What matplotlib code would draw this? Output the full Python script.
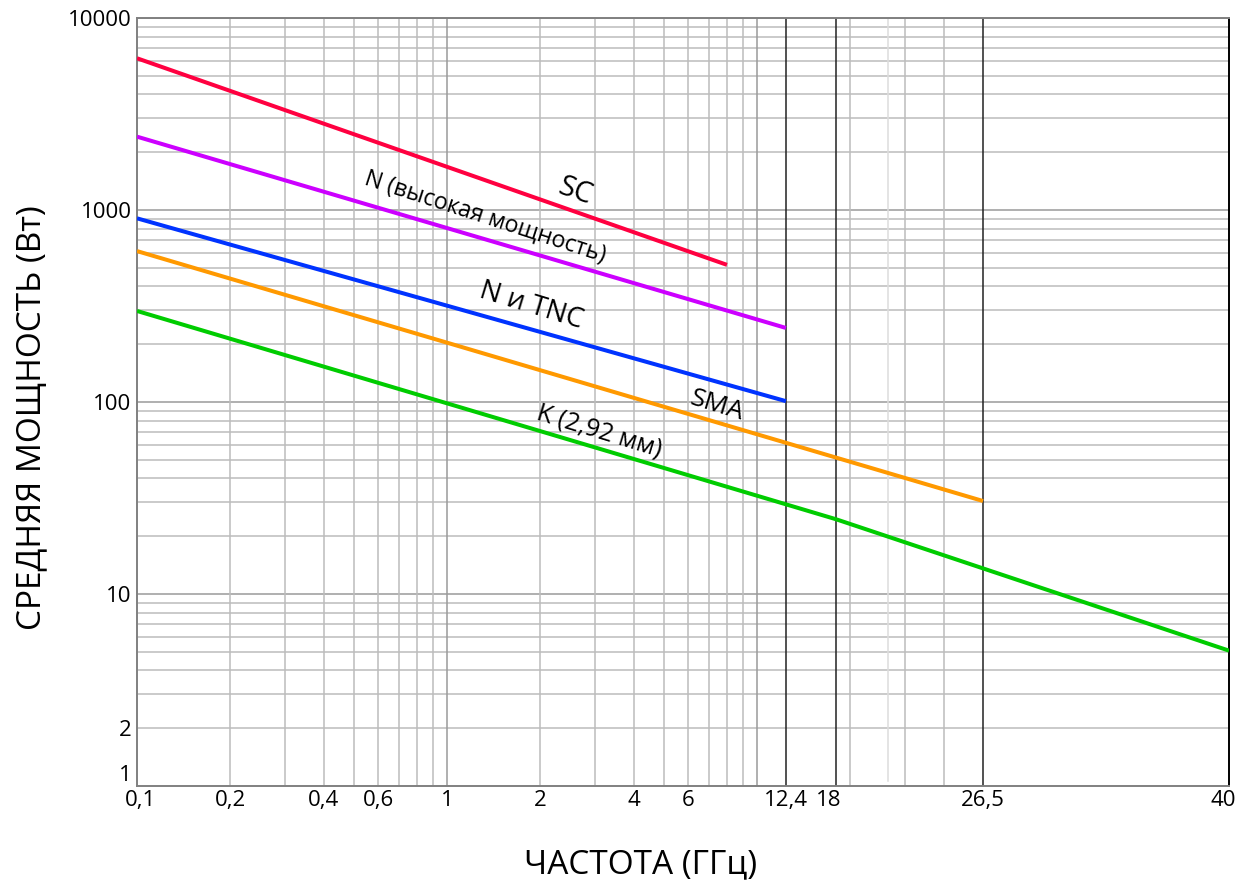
import numpy as np
import matplotlib
matplotlib.use("Agg")
import matplotlib.pyplot as plt
from matplotlib.transforms import ScaledTranslation

plt.rcParams['font.family'] = ['Open Sans', 'DejaVu Sans']

# ---- data ----
freq_ticks = [0.1, 0.2, 0.4, 0.6, 1, 2, 4, 6, 12.4, 18, 26.5, 40]
freq_tick_labels = ['0,1', '0,2', '0,4', '0,6', '1', '2', '4', '6', '12,4', '18', '26,5', '40']
power_ticks = [1, 2, 10, 100, 1000, 10000]
power_tick_labels = ['1', '2', '10', '100', '1000', '10000']
band_edges = [12.4, 18, 26.5]

sc_freq = [0.1, 8.0]
sc_power = [6170, 518]
nhp_freq = [0.1, 12.4]
nhp_power = [2410, 243]
ntnc_freq = [0.1, 12.4]
ntnc_power = [905, 101]
sma_freq = [0.1, 26.5]
sma_power = [611, 30.5]
k_freq = [0.1, 18, 40]
k_power = [298, 24.5, 5.07]

series_names = ['SC', 'N (высокая мощность)', 'N и TNC', 'SMA', 'K (2,92 мм)']
series_colors = ['#ff0040', '#cc00ff', '#0033ff', '#ff9900', '#00cc00']

# ---- custom frequency axis: log up to 18 GHz, stretched above ----
L = np.log10([0.1, 18, 26.5, 40])
P = np.array([-1.0, np.log10(18), 1.729, 2.5226])
s_hi = (P[3] - P[2]) / (L[3] - L[2])
Lk = np.concatenate([[-30.0], L, [30.0]])
Pk = np.concatenate([[-30.0], P, [P[3] + s_hi * (30.0 - L[3])]])


def forward(f):
    f = np.clip(np.asarray(f, dtype=float), 1e-30, None)
    return np.interp(np.log10(f), Lk, Pk)


def inverse(p):
    return 10.0 ** np.interp(np.asarray(p, dtype=float), Pk, Lk)


fig = plt.figure(figsize=(12.39, 8.83), dpi=100)
ax = fig.add_axes([137 / 1239, 1 - 786 / 883, 1092 / 1239, 768 / 883])
ax.set_xscale('function', functions=(forward, inverse))
ax.set_yscale('log')
ax.set_xlim(0.1, 40)
ax.set_ylim(1, 10000)

# ---- grid of the log paper ----
minor_c = '#bcbcbc'
major_c = '#9a9a9a'
for dec in [1, 10, 100, 1000]:
    for m in range(2, 10):
        ax.axhline(m * dec, color=minor_c, lw=1.1, zorder=1)
for dec in [10, 100, 1000, 10000]:
    ax.axhline(dec, color=major_c, lw=1.1, zorder=1)

for dec in [0.1, 1]:
    for m in range(2, 10):
        ax.axvline(m * dec, color=minor_c, lw=1.1, zorder=1)
for v in [1, 10]:
    ax.axvline(v, color=major_c, lw=1.1, zorder=1)
# printed log-paper lines above 18 GHz (20, 30, 40 on the original log ruling)
for g in [20, 30, 40]:
    ax.axvline(inverse(np.log10(g)), color=minor_c, lw=1.1, zorder=1)
ax.axvline(inverse(np.log10(26.5)), color='#dcdcdc', lw=1.1, zorder=1, ymin=0.007)
for b in band_edges:
    ax.axvline(b, color='#222222', lw=1.1, zorder=2)

# ---- curves ----
all_f = [sc_freq, nhp_freq, ntnc_freq, sma_freq, k_freq]
all_p = [sc_power, nhp_power, ntnc_power, sma_power, k_power]
for fr, pw, c in zip(all_f, all_p, series_colors):
    ax.plot(fr, pw, color=c, lw=2.9, solid_capstyle='butt', zorder=3)

# ---- curve labels ----
label_pos = [(2.6, 1250, -19.5, 21), (1.33, 915, -18, 16.7), (1.87, 316, -17, 20),
             (7.4, 96, -17, 19), (3.1, 70.6, -17, 18)]
for name, (x, y, rot, fs) in zip(series_names, label_pos):
    ax.text(x, y, name, rotation=rot, rotation_mode='anchor', ha='center', va='center',
            fontsize=fs, color='black', zorder=4)

# ---- ticks ----
ax.set_xticks(freq_ticks)
ax.set_xticklabels(freq_tick_labels)
ax.set_yticks(power_ticks)
ax.set_yticklabels(power_tick_labels)
ax.minorticks_off()
ax.tick_params(axis='both', length=0, labelsize=16)
ax.tick_params(axis='x', pad=3)
ax.tick_params(axis='y', pad=4)
for lbl in ax.get_yticklabels():
    if lbl.get_text() == '1':
        lbl.set_verticalalignment('bottom')
x_shift_px = {'0,1': 3, '18': -7, '40': -6}
for lbl in ax.get_xticklabels():
    t = lbl.get_text()
    if t in x_shift_px:
        lbl.set_transform(lbl.get_transform() +
                          ScaledTranslation(x_shift_px[t] / 100, 0, fig.dpi_scale_trans))

for side in ['left', 'bottom', 'top']:
    ax.spines[side].set_color('#808080')
    ax.spines[side].set_linewidth(1.4)
ax.spines['right'].set_color('black')
ax.spines['right'].set_linewidth(1.4)

ax.set_xlabel('ЧАСТОТА (ГГц)', fontsize=24)
ax.xaxis.set_label_coords((641 - 137) / 1092, -(848 - 786) / 768)
ax.set_ylabel('СРЕДНЯЯ МОЩНОСТЬ (Вт)', fontsize=24)
ax.yaxis.set_label_coords(-(137 - 48) / 1092, (786 - 418) / 768)

fig.savefig('out.png', dpi=100, facecolor='white')
